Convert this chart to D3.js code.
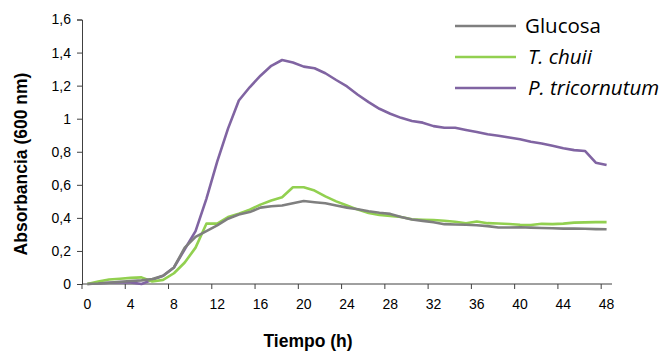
<!DOCTYPE html>
<html>
<head>
<meta charset="utf-8">
<script src="https://cdn.jsdelivr.net/npm/d3@7"></script>
<style>
  html, body { margin: 0; padding: 0; background: #fff; }
  svg { display: block; }
</style>
</head>
<body>
<svg id="chart" width="664" height="352"></svg>
<script>
// Hourly sampling times (h)
const hours = d3.range(0, 49);

// Absorbance at 600 nm for each medium
const glucosa = [
  0.000, 0.003, 0.008, 0.013, 0.018, 0.022, 0.030, 0.050, 0.100, 0.220,
  0.285, 0.320, 0.355, 0.395, 0.420, 0.435, 0.462, 0.470, 0.475, 0.488,
  0.502, 0.495, 0.488, 0.475, 0.462, 0.452, 0.440, 0.431, 0.424, 0.405,
  0.390, 0.382, 0.374, 0.362, 0.360, 0.358, 0.355, 0.350, 0.342, 0.342,
  0.343, 0.341, 0.339, 0.337, 0.335, 0.335, 0.334, 0.332, 0.331
];
const tChuii = [
  0.000, 0.015, 0.027, 0.032, 0.037, 0.040, 0.015, 0.025, 0.065, 0.130,
  0.220, 0.365, 0.365, 0.405, 0.425, 0.450, 0.480, 0.505, 0.525, 0.585,
  0.585, 0.565, 0.530, 0.500, 0.475, 0.450, 0.430, 0.417, 0.412, 0.405,
  0.392, 0.389, 0.387, 0.383, 0.377, 0.368, 0.378, 0.368, 0.366, 0.363,
  0.358, 0.357, 0.364, 0.362, 0.365, 0.371, 0.373, 0.374, 0.374
];
const pTricornutum = [
  0.000, 0.005, 0.008, 0.010, 0.010, 0.000, 0.025, 0.050, 0.100, 0.210,
  0.320, 0.515, 0.740, 0.940, 1.110, 1.190, 1.260, 1.320, 1.355, 1.340,
  1.315, 1.305, 1.275, 1.234, 1.195, 1.145, 1.100, 1.060, 1.030, 1.005,
  0.986, 0.976, 0.955, 0.945, 0.945, 0.932, 0.920, 0.906, 0.897, 0.886,
  0.876, 0.860, 0.850, 0.836, 0.821, 0.810, 0.805, 0.734, 0.720
];

const yTicks = [0, 0.2, 0.4, 0.6, 0.8, 1, 1.2, 1.4, 1.6];
const xTickHours = d3.range(0, 49, 4);

const seriesNames = ["Glucosa", "T. chuii", "P. tricornutum"];
const seriesColors = ["#7f7f7f", "#92d050", "#8064a2"];
const seriesItalic = [false, true, true];
const seriesValues = [glucosa, tChuii, pTricornutum];

const svg = d3.select("#chart");
const plotLeft = 82, plotRight = 612, plotTop = 19.5, plotBottom = 284;

const x = d3.scaleBand().domain(hours).range([plotLeft, plotRight]).paddingInner(0).paddingOuter(0);
const y = d3.scaleLinear().domain([0, 1.6]).range([plotBottom, plotTop]);
const fmt = v => String(v).replace(".", ",");

// Y axis
const yAxis = d3.axisLeft(y).tickValues(yTicks).tickSize(5).tickPadding(6).tickFormat(fmt);
const gy = svg.append("g").attr("transform", `translate(${plotLeft},0)`).call(yAxis);
gy.select(".domain").attr("stroke", "#404040");
gy.selectAll(".tick line").attr("stroke", "#404040");
gy.selectAll(".tick text").attr("font-family", "Liberation Sans, Arial, sans-serif")
  .attr("font-size", 14).attr("fill", "#000");

// X axis: ticks on category boundaries, labels centred on categories
const gx = svg.append("g").attr("transform", `translate(0,${plotBottom})`);
gx.append("line").attr("x1", plotLeft).attr("x2", plotRight).attr("stroke", "#404040");
gx.selectAll("line.tk").data(xTickHours).join("line").attr("class", "tk")
  .attr("x1", d => x(d)).attr("x2", d => x(d)).attr("y1", 0).attr("y2", 5)
  .attr("stroke", "#404040");
gx.selectAll("text").data(xTickHours).join("text")
  .attr("x", d => x(d) + x.bandwidth() / 2).attr("y", 24.5)
  .attr("text-anchor", "middle")
  .attr("font-family", "Liberation Sans, Arial, sans-serif").attr("font-size", 14)
  .text(d => d);

// Axis titles
svg.append("text").attr("x", 308).attr("y", 347).attr("text-anchor", "middle")
  .attr("font-family", "Liberation Sans, Arial, sans-serif").attr("font-weight", "bold")
  .attr("font-size", 17.5).text("Tiempo (h)");
svg.append("text").attr("transform", "translate(27,164) rotate(-90)").attr("text-anchor", "middle")
  .attr("font-family", "Liberation Sans, Arial, sans-serif").attr("font-weight", "bold")
  .attr("font-size", 17.5).text("Absorbancia (600 nm)");

// Lines (purple first, grey on top)
const line = d3.line().x((d, i) => x(hours[i]) + x.bandwidth() / 2).y(d => y(d));
[2, 1, 0].forEach(k => {
  svg.append("path").datum(seriesValues[k]).attr("d", line)
    .attr("fill", "none").attr("stroke", seriesColors[k]).attr("stroke-width", 2.6)
    .attr("stroke-linejoin", "round");
});

// Legend
const lg = svg.append("g");
seriesNames.forEach((name, k) => {
  const yy = 26 + k * 31;
  lg.append("line").attr("x1", 455).attr("x2", 516).attr("y1", yy).attr("y2", yy)
    .attr("stroke", seriesColors[k]).attr("stroke-width", 2.6);
  lg.append("text").attr("x", seriesItalic[k] ? 528 : 525).attr("y", yy + 7)
    .attr("font-family", "Open Sans, Noto Sans, sans-serif").attr("font-size", 20.5)
    .attr("font-style", seriesItalic[k] ? "italic" : "normal").attr("fill", "#000")
    .text(name);
});
</script>
</body>
</html>
